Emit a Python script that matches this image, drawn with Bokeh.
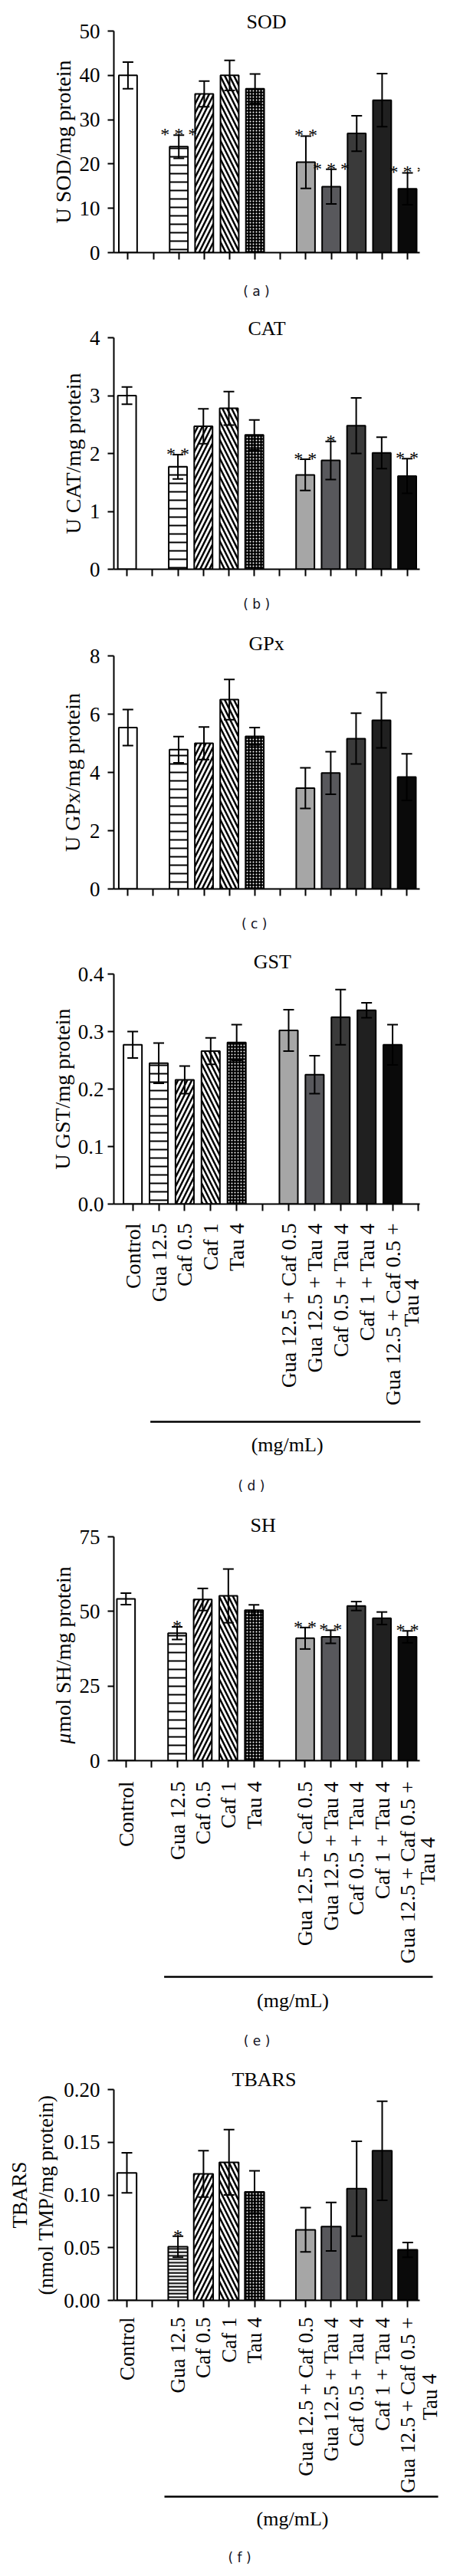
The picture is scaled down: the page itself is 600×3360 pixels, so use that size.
import math
from bokeh.plotting import figure
from bokeh.models import (ColumnDataSource, Whisker, TeeHead, FixedTicker,
                          PrintfTickFormatter, Range1d)
from bokeh.layouts import column
from bokeh.embed import file_html
from bokeh.resources import INLINE
from bokeh.core.properties import value

SERIF = "Liberation Serif"
SANS = "DejaVu Sans"

# ---------------- data ----------------
groups = ["Control", "Gua 12.5", "Caf 0.5", "Caf 1", "Tau 4",
          "Gua 12.5 + Caf 0.5", "Gua 12.5 + Tau 4", "Caf 0.5 + Tau 4",
          "Caf 1 + Tau 4", "Gua 12.5 + Caf 0.5 + Tau 4"]
slots_main = [0, 2, 3, 4, 5, 7, 8, 9, 10, 11]
slots_gst = [0, 1, 2, 3, 4, 6, 7, 8, 9, 10]
x_ticks = list(range(12))

sod_mean = [40.0, 23.9, 35.8, 40.0, 37.0, 20.4, 14.9, 26.9, 34.4, 14.4]
sod_err = [3.0, 2.6, 2.9, 3.4, 3.3, 5.9, 3.9, 4.0, 6.0, 3.6]
sod_sig = ["", "***", "", "", "", "**", "***", "", "", "***"]
sod_ticks = [0, 10, 20, 30, 40, 50]

cat_mean = [3.0, 1.77, 2.47, 2.78, 2.32, 1.63, 1.88, 2.48, 2.01, 1.61]
cat_err = [0.15, 0.21, 0.30, 0.29, 0.26, 0.27, 0.33, 0.48, 0.27, 0.30]
cat_sig = ["", "**", "", "", "", "**", "*", "", "", "**"]
cat_ticks = [0, 1, 2, 3, 4]

gpx_mean = [5.54, 4.78, 5.0, 6.5, 5.24, 3.46, 3.98, 5.16, 5.79, 3.84]
gpx_err = [0.62, 0.45, 0.56, 0.69, 0.30, 0.70, 0.73, 0.87, 0.95, 0.80]
gpx_sig = [""] * 10
gpx_ticks = [0, 2, 4, 6, 8]

gst_mean = [0.277, 0.245, 0.216, 0.266, 0.281, 0.302, 0.225, 0.325, 0.337, 0.277]
gst_err = [0.023, 0.035, 0.024, 0.023, 0.031, 0.036, 0.033, 0.048, 0.013, 0.035]
gst_sig = [""] * 10
gst_ticks = [0.0, 0.1, 0.2, 0.3, 0.4]

sh_mean = [54.2, 42.7, 54.0, 55.2, 50.4, 41.0, 41.5, 51.8, 47.7, 41.5]
sh_err = [1.9, 2.1, 3.7, 9.0, 1.8, 3.6, 2.2, 1.5, 2.1, 2.0]
sh_sig = ["", "*", "", "", "", "**", "**", "", "", "**"]
sh_ticks = [0, 25, 50, 75]

tbars_mean = [0.121, 0.051, 0.120, 0.131, 0.103, 0.067, 0.070, 0.106, 0.142, 0.048]
tbars_err = [0.019, 0.010, 0.022, 0.031, 0.020, 0.021, 0.023, 0.045, 0.047, 0.007]
tbars_sig = ["", "*", "", "", "", "", "", "", "", ""]
tbars_ticks = [0.0, 0.05, 0.10, 0.15, 0.20]

unit_label = "(mg/mL)"

# ---------------- styles ----------------
fills = ["white", "white", "white", "white", "black",
         "#a6a6a6", "#58585c", "#3a3a3a", "#202020", "#0a0a0a"]
hatches = ["blank", "horizontal_line", "right_diagonal_line", "left_diagonal_line", "dot",
           "blank", "blank", "blank", "blank", "blank"]
hatch_colors = ["black", "black", "black", "black", "white",
                "black", "black", "black", "black", "black"]
hatch_weights = [1, 2, 2.5, 2.5, 1.6, 1, 1, 1, 1, 1]

panels = [
    dict(tag="( a )", title="SOD", ylab=["U SOD/mg protein"], mean=sod_mean, err=sod_err,
         sig=sod_sig, slots=slots_main, ymax=50, yticks=sod_ticks, fmt="%d",
         top=8, bot=412, L=111, R=566, T=48, B=337, pos0=132, step=37.8,
         title_xy=(338, 36), tag_xy=(323, 387), ylab_x=[36], std=10, hs=11, bw=0.72),
    dict(tag="( b )", title="CAT", ylab=["U CAT/mg protein"], mean=cat_mean, err=cat_err,
         sig=cat_sig, slots=slots_main, ymax=4, yticks=cat_ticks, fmt="%d",
         top=412, bot=822, L=100, R=578, T=448, B=750, pos0=120.5, step=39.8,
         title_xy=(339, 436), tag_xy=(323, 795), ylab_x=[36], std=10, hs=11, bw=0.72),
    dict(tag="( c )", title="GPx", ylab=["U GPx/mg protein"], mean=gpx_mean, err=gpx_err,
         sig=gpx_sig, slots=slots_main, ymax=8, yticks=gpx_ticks, fmt="%d",
         top=822, bot=1237, L=101, R=580, T=863, B=1167, pos0=123, step=39.7,
         title_xy=(340, 847), tag_xy=(321, 1212), ylab_x=[36], std=10, hs=11, bw=0.72),
    dict(tag="( d )", title="GST", ylab=["U GST/mg protein"], mean=gst_mean, err=gst_err,
         sig=gst_sig, slots=slots_gst, ymax=0.4, yticks=gst_ticks, fmt="%.1f",
         top=1237, bot=1970, L=114, R=579, T=1278, B=1578, pos0=142.7, step=39.5,
         title_xy=(355, 1262), tag_xy=(323, 1945), ylab_x=[36], std=5, hs=11, bw=0.71,
         lab_top=1603, lab_fs=28, mg_line=(169.5, 580, 1862), mg_xy=(377.5, 1892)),
    dict(tag="( e )", title="SH", ylab=["\u03bc|mol SH/mg protein"], mean=sh_mean, err=sh_err,
         sig=sh_sig, slots=slots_main, ymax=75, yticks=sh_ticks, fmt="%d",
         top=1970, bot=2695, L=114, R=561, T=2012, B=2304, pos0=131.7, step=37.4,
         title_xy=(332, 1997), tag_xy=(323, 2669), ylab_x=[40], std=10, hs=11, bw=0.71,
         lab_top=2331, lab_fs=28, mg_line=(187.5, 580, 2586), mg_xy=(375.6, 2617)),
    dict(tag="( f )", title="TBARS", ylab=["TBARS", "(nmol TMP/mg protein)"], mean=tbars_mean,
         err=tbars_err, sig=tbars_sig, slots=slots_main, ymax=0.2, yticks=tbars_ticks, fmt="%.2f",
         top=2695, bot=3352, L=156, R=555, T=2733, B=3008, pos0=173, step=33.3,
         title_xy=(352, 2720), tag_xy=(320, 3343), ylab_x=[33, 67], std=10, hs=4.5, bw=0.76,
         lab_top=3030, lab_fs=27, mg_line=(222, 579, 3264), mg_xy=(389, 3293)),
]

W = 584


def make_panel(c):
    L, R, T, B = c["L"], c["R"], c["T"], c["B"]
    pos0, step, ymax = c["pos0"], c["step"], c["ymax"]
    fh = B - T

    def X(px):
        return (px - pos0) / step

    def Y(py):
        return (B - py) / fh * ymax

    h = c["bot"] - c["top"]
    p = figure(width=W, height=h,
               x_range=Range1d(X(L), X(R)), y_range=Range1d(0, ymax),
               min_border_left=int(round(L - 8)), min_border_right=int(round(W - (R - 8))),
               min_border_top=int(round(T - c["top"])), min_border_bottom=int(round(c["bot"] - B)),
               toolbar_location=None, output_backend="svg", outline_line_color=None,
               background_fill_color="white", border_fill_color="white")
    p.xgrid.visible = False
    p.ygrid.visible = False

    # axes
    for ax in (p.xaxis[0], p.yaxis[0]):
        ax.axis_line_width = 2
        ax.axis_line_color = "black"
        ax.major_tick_line_width = 2
        ax.major_tick_line_color = "black"
        ax.major_tick_in = 0
        ax.minor_tick_in = 0
        ax.minor_tick_out = 0
    p.xaxis.ticker = FixedTicker(ticks=x_ticks)
    p.xaxis.major_tick_out = 9
    p.xaxis.major_label_overrides = {i: "" for i in x_ticks}
    p.yaxis.ticker = FixedTicker(ticks=c["yticks"])
    p.yaxis.formatter = PrintfTickFormatter(format=c["fmt"])
    p.yaxis.major_tick_out = 8
    p.yaxis.major_label_standoff = c["std"]
    p.yaxis.major_label_text_font = SERIF
    p.yaxis.major_label_text_font_size = "27px"
    p.yaxis.major_label_text_color = "black"

    # bars
    hs = c["hs"]
    scales = [hs if hat == "horizontal_line" else (4 if hat == "dot" else 12) for hat in hatches]
    px_per_unit = fh / ymax
    src = ColumnDataSource(dict(
        x=c["slots"], top=c["mean"],
        upper=[m + e for m, e in zip(c["mean"], c["err"])],
        lower=[m - e for m, e in zip(c["mean"], c["err"])],
        fill=fills, hatch=hatches, hcolor=hatch_colors, hscale=scales, hweight=hatch_weights,
    ))
    p.vbar(x="x", top="top", bottom=0, width=c["bw"], source=src,
           fill_color="fill", line_color="black", line_width=2,
           hatch_pattern="hatch", hatch_color="hcolor", hatch_scale="hscale",
           hatch_weight="hweight")
    wk = Whisker(source=src, base="x", upper="upper", lower="lower",
                 line_width=2, line_color="black", level="overlay",
                 upper_head=TeeHead(size=14, line_width=2, line_color="black"),
                 lower_head=TeeHead(size=14, line_width=2, line_color="black"))
    p.add_layout(wk)

    # significance marks
    sx, sy, st = [], [], []
    for s, m, e, g in zip(c["slots"], c["mean"], c["err"], c["sig"]):
        if g:
            sx.append(s)
            sy.append(m + e + 1.0 / px_per_unit)
            st.append(" ".join(list(g)))
    if st:
        p.text(x=sx, y=sy, text=st, text_font=value(SERIF), text_font_size="24px",
               text_align="center", text_baseline="alphabetic", text_color="black")

    # texts outside the frame (overlay level, not clipped)
    tx_, ty_, tt_, ta_, tal_, tfs_ = [], [], [], [], [], []

    def add(x, y, t, ang, align, fs):
        tx_.append(x); ty_.append(y); tt_.append(t); ta_.append(ang); tal_.append(align); tfs_.append(fs)

    tx0, ty0 = c["title_xy"]
    add(X(tx0), Y(ty0), c["title"], 0.0, "center", "26px")
    yfs = "28px" if len(c["ylab"]) == 1 else "27px"
    for lx, lt in zip(c["ylab_x"], c["ylab"]):
        if "|" in lt:
            # italic prefix (mu) followed by upright text, read bottom-to-top
            pre, rest = lt.split("|")
            total = 248.0
            ybot = (T + B) / 2 + total / 2
            p.text(x=[X(lx)], y=[Y(ybot)], text=[pre], angle=math.pi / 2,
                   text_align="left", text_baseline="middle", text_font=value(SERIF),
                   text_font_style="italic", text_font_size=yfs, text_color="black",
                   level="overlay")
            add(X(lx), Y(ybot - 15), rest, math.pi / 2, "left", yfs)
        else:
            add(X(lx), ymax / 2, lt, math.pi / 2, "center", yfs)

    if "lab_top" in c:
        ytop = Y(c["lab_top"])
        fs = "%dpx" % c["lab_fs"]
        for s, g in zip(c["slots"], groups):
            if g.count("+") == 2:
                parts = g.rsplit(" ", 2)
                first, second = parts[0], " ".join(parts[1:])
                add(s, ytop, first, math.pi / 2, "right", fs)
                add(s + 28.7 / step, Y(c["lab_top"] + 104), second, math.pi / 2, "center", fs)
            else:
                add(s, ytop, g, math.pi / 2, "right", fs)
        mx, my = c["mg_xy"]
        add(X(mx), Y(my), unit_label, 0.0, "center", "26px")
        x0, x1, yl = c["mg_line"]
        p.segment(x0=[X(x0)], y0=[Y(yl)], x1=[X(x1)], y1=[Y(yl)], line_width=2.5,
                  line_color="black", level="overlay")

    tsrc = ColumnDataSource(dict(x=tx_, y=ty_, text=tt_, angle=ta_, align=tal_, fs=tfs_))
    p.text(x="x", y="y", text="text", angle="angle", text_align="align", text_font_size="fs",
           text_baseline="middle", text_font=value(SERIF), text_color="black",
           text_line_height=1.0, source=tsrc, level="overlay")

    gx, gy = c["tag_xy"]
    p.text(x=[X(gx)], y=[Y(gy)], text=[c["tag"]], text_font=value(SANS),
           text_font_size="17px", text_align="center", text_baseline="middle",
           text_color="#111122", level="overlay")
    return p


figs = [make_panel(c) for c in panels]
layout = column(*figs, spacing=0)
open("out.html", "w").write(file_html(layout, INLINE))
